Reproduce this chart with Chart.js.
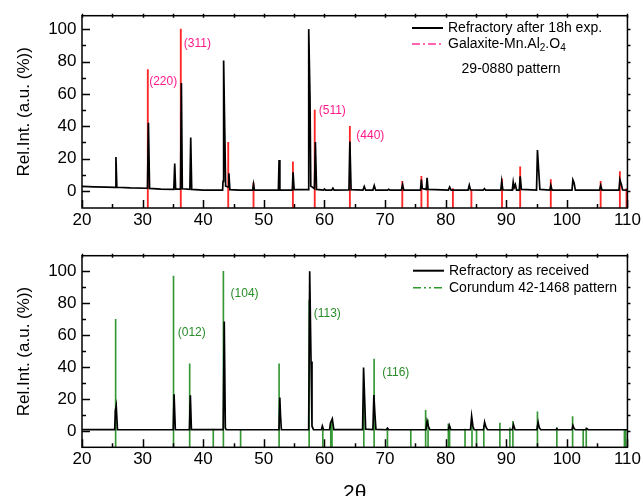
<!DOCTYPE html>
<html>
<head>
<meta charset="utf-8">
<script src="https://cdn.jsdelivr.net/npm/chart.js@4/dist/chart.umd.min.js"></script>
<style>
  html, body { margin: 0; padding: 0; background: #fff; overflow: hidden; width: 643px; height: 496px; }
  canvas { position: absolute; left: 0; }
  #topChart { top: 0; }
  #bottomChart { top: 240px; }
</style>
</head>
<body>
<canvas id="topChart" width="643" height="240"></canvas>
<canvas id="bottomChart" width="643" height="270"></canvas>
<script>
// measured pattern, refractory after 18h exposure (2theta, rel. intensity %)
const topTheta = [20.0, 22.0, 24.0, 25.45, 25.6, 25.75, 28.0, 30.8, 30.96, 31.15, 33.0, 35.15, 35.3, 35.45, 36.25, 36.4, 36.55,
  37.8, 37.94, 38.1, 40.0, 43.2, 43.27, 43.37, 43.55, 43.7, 44.1, 44.24, 44.4, 46.0, 48.15, 48.3, 48.45,
  52.4, 52.52, 52.65, 54.7, 54.83, 55.0, 57.3, 57.41, 57.62, 57.75, 58.35, 58.51, 58.7, 59.85, 60.0, 60.2,
  61.2, 61.4, 61.6, 64.05, 64.2, 64.4, 66.35, 66.57, 66.8, 68.0, 68.22, 68.45, 70.4, 70.6, 70.8, 72.7, 72.9, 73.1,
  75.85, 76.0, 76.15, 76.8, 76.94, 77.1, 80.45, 80.66, 80.9, 83.7, 83.9, 84.1, 86.2, 86.4, 86.6, 89.1, 89.25, 89.45,
  91.0, 91.15, 91.3, 91.5, 91.7, 92.15, 92.3, 92.5, 95.0, 95.15, 95.35, 95.55, 97.2, 97.35, 97.55,
  100.85, 101.0, 101.2, 101.4, 105.4, 105.58, 105.8, 108.6, 108.75, 109.0, 109.2, 110.0];
const topInt = [2.8, 2.6, 2.4, 2.3, 21.0, 2.3, 1.9, 1.7, 42.2, 1.6, 1.2, 1.0, 17.0, 1.1, 1.1, 66.7, 1.4,
  1.0, 33.0, 1.0, 0.6, 0.6, 6.0, 80.6, 38.8, 3.0, 2.5, 11.0, 0.8, 0.5, 0.5, 4.2, 0.5,
  0.5, 19.2, 0.6, 0.6, 11.5, 0.8, 0.8, 100, 58.0, 3.0, 1.5, 30.3, 1.0, 0.5, 1.2, 0.5,
  0.5, 1.8, 0.5, 0.6, 30.5, 0.8, 0.5, 2.8, 0.5, 0.5, 3.4, 0.5, 0.5, 1.0, 0.5, 0.5, 3.9, 0.5,
  0.5, 7.0, 1.5, 1.0, 8.1, 1.0, 0.5, 2.4, 0.5, 0.5, 3.6, 0.6, 0.5, 1.5, 0.5, 0.5, 6.0, 0.6,
  0.5, 5.5, 2.0, 4.0, 0.6, 0.6, 9.1, 1.0, 0.5, 25.3, 13.0, 1.0, 0.5, 3.5, 0.6,
  0.5, 6.9, 5.0, 0.6, 0.5, 3.5, 0.6, 0.6, 7.1, 3.9, 0.6, 0.5];

// Galaxite-MnAl2O4 29-0880 reference lines
const galaxiteTheta = [30.86, 36.3, 44.13, 48.3, 54.8, 58.4, 64.2, 72.85, 76.0, 77.05, 81.2, 84.25, 89.3, 92.3, 97.35, 105.58, 108.75, 109.85];
const galaxiteInt = [75, 100, 30, 5, 18, 50, 40, 6, 9, 0.5, 1.5, 1, 7.5, 15, 7, 6, 12, 1.5];

// measured pattern, refractory as received
const bottomTheta = [20.0, 25.4, 25.5, 25.65, 25.85, 35.05, 35.19, 35.4, 37.72, 37.88, 38.05, 43.3, 43.47, 43.65, 43.8,
  52.5, 52.64, 52.75, 52.9, 57.4, 57.57, 57.79, 57.95, 58.2, 59.5, 59.66, 59.85, 60.85, 61.0, 61.3, 61.55,
  66.3, 66.46, 66.63, 66.8, 68.0, 68.16, 68.33, 68.5, 70.2, 70.4, 70.6, 76.75, 76.94, 77.15, 77.4,
  80.45, 80.61, 80.85, 84.1, 84.29, 84.5, 84.7, 86.25, 86.43, 86.65, 86.9, 91.0, 91.2, 91.45,
  95.05, 95.26, 95.45, 95.7, 98.2, 98.35, 98.5, 100.85, 101.0, 101.2, 101.4, 103.1, 103.3, 103.5, 110.0];
const bottomInt = [0.9, 0.9, 12.7, 15.8, 0.9, 0.8, 23.0, 0.9, 0.8, 22.4, 0.9, 0.9, 68.6, 2.0, 0.8,
  0.8, 21.0, 10.0, 0.8, 0.9, 100, 43.5, 3.0, 0.9, 0.8, 3.1, 0.8, 0.9, 5.0, 7.6, 0.9,
  0.9, 39.8, 21.0, 1.2, 0.9, 22.6, 10.7, 1.0, 0.8, 1.8, 0.8, 0.8, 6.2, 3.0, 0.8,
  0.8, 3.5, 0.8, 0.8, 9.2, 3.0, 0.8, 0.8, 5.5, 2.5, 0.8, 0.8, 3.9, 0.8,
  0.8, 5.5, 2.0, 0.8, 0.8, 1.5, 0.8, 0.8, 3.5, 1.5, 0.8, 0.8, 1.5, 0.8, 0.8];

// Corundum 42-1468 reference lines
const corundumTheta = [25.55, 35.1, 37.77, 41.66, 43.33, 46.17, 52.52, 57.48, 59.73, 61.05, 61.25, 66.5, 68.2, 70.4,
  74.25, 76.7, 77.1, 80.45, 80.65, 83.2, 84.35, 85.1, 86.3, 88.95, 90.6, 91.1, 95.15, 98.35, 100.95, 102.7, 103.2, 109.5, 109.7];
const corundumInt = [70, 97, 42, 1.2, 100, 1, 42, 82, 1, 4.5, 6.5, 27, 45, 1.5,
  0.5, 13, 7, 4.5, 3, 1.2, 5, 1, 3.5, 5, 2, 6, 12, 2, 9, 1, 2, 1, 1];

const xTicks = [20, 30, 40, 50, 60, 70, 80, 90, 100, 110];
const yTicks = [0, 20, 40, 60, 80, 100];

const FONT = "'Liberation Sans', Arial, sans-serif";

// frame, inward ticks, legend and peak labels
function panelDecor(extra) {
  return {
    id: 'panelDecor',
    afterDatasetsDraw(chart) {
      const {ctx, chartArea: a, scales: {x, y}} = chart;
      ctx.save();
      ctx.strokeStyle = '#000';
      ctx.lineWidth = 1.5;
      ctx.strokeRect(a.left, a.top, a.right - a.left, a.bottom - a.top);
      ctx.beginPath();
      for (let v = 20; v <= 110; v += 5) {
        const px = Math.round(x.getPixelForValue(v)) + 0.5;
        const len = v % 10 === 0 ? 8 : 4;
        ctx.moveTo(px, a.bottom); ctx.lineTo(px, a.bottom - len);
        ctx.moveTo(px, a.top - 2); ctx.lineTo(px, a.top + 2);
      }
      for (let v = 0; v <= 100; v += 10) {
        const py = Math.round(y.getPixelForValue(v)) + 0.5;
        const len = v % 20 === 0 ? 8 : 4;
        ctx.moveTo(a.left, py); ctx.lineTo(a.left + len, py);
        ctx.moveTo(a.right, py); ctx.lineTo(a.right + 3, py);
      }
      ctx.stroke();

      // peak labels
      ctx.font = '12px ' + FONT;
      ctx.textAlign = 'left';
      ctx.textBaseline = 'middle';
      ctx.fillStyle = extra.labelColor;
      extra.peakLabels.forEach(p => {
        ctx.fillText(p.text, x.getPixelForValue(p.x), y.getPixelForValue(p.y));
      });

      // legend
      extra.legend.forEach(row => {
        ctx.strokeStyle = row.color;
        ctx.lineWidth = row.width;
        ctx.setLineDash(row.dash);
        ctx.beginPath();
        ctx.moveTo(row.x0, row.y); ctx.lineTo(row.x1, row.y);
        ctx.stroke();
        ctx.setLineDash([]);
        ctx.fillStyle = '#000';
        let tx = row.x1 + 5;
        row.parts.forEach(part => {
          ctx.font = (part.sub ? '10px ' : '14px ') + FONT;
          ctx.fillText(part.t, tx, row.y + (part.sub ? 4 : 0));
          tx += ctx.measureText(part.t).width;
        });
      });
      if (extra.note) {
        ctx.font = '14px ' + FONT;
        ctx.textAlign = 'center';
        ctx.fillStyle = '#000';
        ctx.fillText(extra.note.text, extra.note.x, extra.note.y);
      }
      ctx.restore();
    }
  };
}

function makePanel(id, theta, inten, stickTheta, stickInt, stickColor, stickWidth, yMin, yMax, padTop, xHeight, xTitle, extra) {
  return new Chart(document.getElementById(id), {
    type: 'line',
    data: {
      datasets: [{
        label: 'pattern',
        data: theta.map((t, i) => ({x: t, y: inten[i]})),
        borderColor: '#000',
        borderWidth: 1.7,
        pointRadius: 0,
        tension: 0,
        order: 0
      }, {
        type: 'bar',
        label: 'reference',
        data: stickTheta.map((t, i) => ({x: t, y: [yMin, stickInt[i]]})),
        backgroundColor: stickColor,
        barThickness: stickWidth,
        borderWidth: 0,
        order: 1
      }]
    },
    options: {
      responsive: false,
      animation: false,
      layout: {padding: {top: padTop, right: 14.5, left: 0, bottom: 0}},
      plugins: {legend: {display: false}, tooltip: {enabled: false}},
      scales: {
        x: {
          type: 'linear', min: 20, max: 110, offset: false,
          afterBuildTicks: s => { s.ticks = xTicks.map(v => ({value: v})); },
          afterFit: s => { s.height = xHeight; },
          grid: {display: false, drawTicks: false},
          border: {display: false},
          ticks: {color: '#000', font: {family: FONT, size: 17}, padding: 2, maxRotation: 0},
          title: {display: !!xTitle, text: xTitle || '', color: '#000', font: {family: FONT, size: 21}, padding: {top: 0, bottom: 4}}
        },
        y: {
          min: yMin, max: yMax,
          afterBuildTicks: s => { s.ticks = yTicks.map(v => ({value: v})); },
          afterFit: s => { s.width = 82; },
          grid: {display: false, drawTicks: false},
          border: {display: false},
          ticks: {color: '#000', font: {family: FONT, size: 17}, padding: 5.5},
          title: {display: true, text: 'Rel.Int. (a.u. (%))', color: '#000', font: {family: FONT, size: 17}, padding: {top: 14, bottom: 0}}
        }
      }
    },
    plugins: [panelDecor(extra)]
  });
}

makePanel('topChart', topTheta, topInt, galaxiteTheta, galaxiteInt, 'rgba(255,0,0,0.85)', 1.2, -10.5, 108.3, 12, 32, null, {
  labelColor: '#ff1a8c',
  peakLabels: [
    {text: '(220)', x: 31.08, y: 67.7},
    {text: '(311)', x: 36.79, y: 91.3},
    {text: '(511)', x: 59.06, y: 49.5},
    {text: '(440)', x: 65.26, y: 34.4}
  ],
  legend: [
    {y: 28, x0: 412, x1: 443, color: '#000', width: 2, dash: [], parts: [{t: 'Refractory after 18h exp.'}]},
    {y: 44, x0: 412, x1: 443, color: '#ff3399', width: 1.5, dash: [8, 3, 2, 3],
      parts: [{t: 'Galaxite-Mn.Al'}, {t: '2', sub: true}, {t: '.O'}, {t: '4', sub: true}]}
  ],
  note: {text: '29-0880 pattern', x: 511, y: 69}
});

makePanel('bottomChart', bottomTheta, bottomInt, corundumTheta, corundumInt, 'rgba(30,140,30,0.9)', 1, -10.2, 109.8, 12.3, 62.7, '2θ', {
  labelColor: '#2a8c2a',
  peakLabels: [
    {text: '(012)', x: 35.8, y: 61.6},
    {text: '(104)', x: 44.52, y: 85.8},
    {text: '(113)', x: 58.23, y: 73.7},
    {text: '(116)', x: 69.54, y: 36.3}
  ],
  legend: [
    {y: 30.7, x0: 413, x1: 444, color: '#000', width: 2, dash: [], parts: [{t: 'Refractory as received'}]},
    {y: 47.7, x0: 413, x1: 444, color: '#2a9a2a', width: 1.5, dash: [8, 3, 2, 3, 2, 3], parts: [{t: 'Corundum 42-1468 pattern'}]}
  ]
});
</script>
</body>
</html>
